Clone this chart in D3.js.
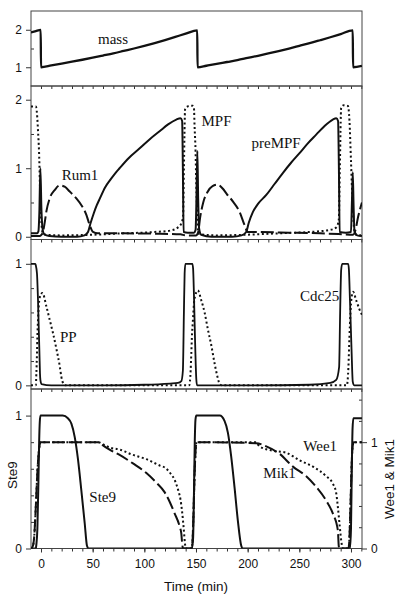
<!DOCTYPE html>
<html><head><meta charset="utf-8">
<script src="https://cdn.jsdelivr.net/npm/d3@7"></script>
<style>body{margin:0;background:#fff} svg{display:block}</style>
</head><body><svg id="c" width="400" height="600"></svg>
<script>
// ---- data (time in min) ----
const timeTicks = [0, 50, 100, 150, 200, 250, 300];
const massTicks = [1, 2];
const mpfTicks = [0, 1, 2];
const ppTicks = [0, 1];
const ste9Ticks = [0, 1];
const weeTicks = [0, 1];

const mass = [[-9.7,1.93],[-5,1.965],[-0.3,1.995],[0,1.0],[10,1.047],[20,1.096],[30,1.147],[40,1.2],[50,1.255],[60,1.312],[70,1.37],[80,1.435],[90,1.5],[100,1.57],[110,1.645],[120,1.725],[130,1.81],[140,1.895],[151.2,1.985],[151.5,1.0],[160,1.04],[170,1.088],[180,1.14],[190,1.19],[200,1.248],[210,1.306],[220,1.367],[230,1.431],[240,1.498],[250,1.57],[260,1.642],[270,1.72],[280,1.8],[290,1.885],[301.7,1.985],[302,1.0],[310.6,1.04]];

const preMPF = [[-9.7,0.05],[-4,0.05],[-2.5,0.08],[-1.6,0.35],[-0.6,1.0],[0.4,0.4],[1.5,0.12],[3,0.04],[8,0.01],[20,0.0],[35,0.0],[42,0.02],[45.5,0.07],[48,0.2],[51,0.34],[54,0.46],[57,0.56],[62,0.72],[67,0.83],[72,0.93],[76,1.0],[85,1.15],[95.5,1.29],[105,1.42],[114.8,1.54],[123,1.64],[130.9,1.71],[135,1.73],[136.6,1.69],[137.3,1.0],[138,0.07],[142,0.06],[148,0.06],[149.6,0.1],[150.5,0.6],[151.3,1.25],[152.1,0.55],[153,0.12],[155,0.03],[165,0.0],[185,0.0],[194,0.02],[198.6,0.07],[201,0.2],[205,0.36],[210,0.48],[218,0.61],[226,0.77],[234,0.93],[242,1.08],[250.2,1.22],[258,1.36],[266.3,1.49],[274,1.61],[282.4,1.71],[285.7,1.73],[287.5,1.69],[288.3,1.0],[289,0.07],[295,0.06],[300,0.07],[300.9,0.5],[301.7,0.94],[302.5,0.45],[303.4,0.08],[306,0.02],[310.6,0.01]];

const MPF = [[-9.7,1.9],[-5,1.9],[-3.9,1.8],[-2.9,1.55],[-1.9,1.24],[-0.6,0.52],[0.4,0.2],[1.4,0.07],[4,0.03],[20,0.02],[50,0.03],[80,0.05],[110,0.07],[125,0.09],[132,0.13],[136,0.2],[137.5,0.3],[138.3,1.0],[139.5,1.87],[143.8,1.91],[147,1.91],[148,1.88],[148.6,1.62],[149.6,1.23],[150.3,0.74],[151.2,0.35],[151.8,0.11],[153,0.04],[170,0.02],[200,0.03],[230,0.05],[260,0.07],[280,0.1],[286,0.14],[288.2,0.25],[289.2,1.0],[290.5,1.88],[293,1.92],[297,1.91],[298.5,1.7],[300,1.1],[301.5,0.5],[303.4,0.08],[305,0.03],[310.6,0.02]];

const Rum1 = [[-9.7,0.01],[-1,0.01],[0.5,0.03],[1.9,0.07],[3.5,0.2],[5.2,0.37],[8.4,0.56],[13.2,0.68],[18.1,0.75],[22.9,0.73],[27.8,0.66],[34.2,0.56],[39.1,0.46],[43.9,0.32],[47.1,0.17],[50.3,0.07],[55,0.05],[80,0.05],[110,0.045],[135,0.035],[140,0.02],[150,0.02],[152,0.06],[154,0.28],[157,0.5],[161,0.65],[166,0.74],[171,0.76],[176,0.7],[180,0.62],[186,0.51],[192,0.37],[197,0.17],[200,0.07],[205,0.07],[240,0.06],[270,0.05],[288,0.04],[302,0.03],[304,0.08],[307,0.3],[310.6,0.5]];

const Cdc25 = [[-9.7,1.0],[-5.5,1.0],[-5.1,0.99],[-3.9,0.92],[-2.9,0.7],[-2.2,0.48],[-1.5,0.26],[-1,0.1],[-0.6,0.045],[0.5,0.01],[10,0.0],[60,0.0],[100,0.005],[125,0.015],[132.5,0.02],[135.8,0.035],[137.3,0.12],[138.3,0.6],[139,0.92],[139.7,1.0],[146.5,1.0],[147.2,0.96],[148,0.75],[149,0.4],[150.3,0.05],[151,0.0],[200,0.0],[260,0.005],[280,0.02],[285.7,0.045],[288.5,0.15],[289.5,0.6],[290.5,0.95],[291.5,1.0],[297.3,1.0],[298,0.95],[299,0.7],[300.5,0.3],[301.7,0.03],[303,0],[310.6,0]];

const PP = [[-9.7,0.0],[-5,0.0],[-4.5,0.1],[-3.9,0.26],[-3.5,0.4],[-2.9,0.54],[-2.2,0.65],[-1.3,0.72],[1.4,0.76],[5.2,0.65],[8.4,0.54],[11.6,0.43],[14.9,0.3],[18.1,0.16],[19.7,0.07],[22,0.01],[24,0],[143.5,0],[144.8,0.12],[145.4,0.25],[146,0.39],[147,0.53],[148,0.67],[149.3,0.74],[151.8,0.78],[155.1,0.7],[158.3,0.6],[161.5,0.46],[164.8,0.33],[168,0.18],[170.5,0.08],[173,0.01],[175,0],[296,0],[297.5,0.15],[298.5,0.4],[299.5,0.6],[300.5,0.72],[302,0.77],[305,0.7],[308,0.63],[310.6,0.58]];

const Ste9 = [[-9.7,0],[-5,0.0],[-4.5,0.03],[-3.5,0.15],[-2.5,0.5],[-1.8,0.8],[-1.2,0.95],[-0.5,1.0],[21,1.0],[26,0.98],[29.4,0.94],[32.6,0.84],[35.8,0.67],[39,0.44],[42.3,0.19],[44.5,0.02],[46,0.0],[146,0],[147.2,0.08],[148,0.4],[148.8,0.8],[149.5,0.97],[150.3,1.0],[173,1.0],[177.6,0.96],[180.9,0.87],[184.1,0.69],[187.3,0.46],[190.5,0.21],[193.8,0.02],[195,0],[299,0],[300,0.15],[300.8,0.6],[301.5,0.9],[302.3,0.98],[310.6,0.98]];

const Wee1 = [[-9.7,0.0],[-8,0.02],[-6.5,0.12],[-5,0.4],[-3.5,0.72],[-2,0.92],[-0.5,1.0],[55,1.0],[60,0.98],[66.4,0.95],[76.1,0.93],[89,0.88],[102,0.84],[115,0.78],[120,0.76],[125,0.71],[130,0.63],[133,0.54],[135,0.46],[136.5,0.35],[138,0.2],[139.3,0.05],[140,0.0],[145.5,0],[146.5,0.05],[147.5,0.3],[148.5,0.65],[149.5,0.9],[150.5,1.0],[208,1.0],[211.5,0.96],[224.4,0.92],[237.3,0.9],[250.2,0.83],[263.1,0.77],[276,0.68],[282.4,0.61],[285.7,0.52],[287.3,0.39],[288.9,0.23],[290.6,0.07],[292,0.0],[297.5,0.0],[298.5,0.1],[299.5,0.4],[300.5,0.75],[301.5,0.95],[302.5,1.0],[310.6,1.0]];

const Mik1 = [[-9.7,0.0],[-8,0.02],[-6.5,0.12],[-5,0.4],[-3.5,0.72],[-2,0.92],[-0.5,1.0],[56,1.0],[60,0.97],[66.4,0.93],[76.1,0.88],[89,0.8],[102,0.71],[111.6,0.62],[119.6,0.53],[124.5,0.44],[129.3,0.33],[134.1,0.21],[135.8,0.14],[136.8,0.03],[137.5,0],[145.5,0],[146.5,0.05],[147.5,0.3],[148.5,0.65],[149.5,0.9],[150.5,1.0],[208.3,0.99],[218,0.96],[230.9,0.89],[243.8,0.77],[256.7,0.68],[266.3,0.58],[276,0.45],[282.4,0.33],[287.3,0.17],[288.2,0.02],[289,0],[297.5,0],[298.5,0.1],[299.5,0.4],[300.5,0.75],[301.5,0.95],[302.5,1.0],[310.6,1.0]];

// ---- layout ----
const svg = d3.select("#c");
const L = 31, R = 362;
const x = d3.scaleLinear().domain([-9.68, 310.65]).range([L, R]);
const sans = "'Liberation Sans', Arial, sans-serif";
const serif = "'Liberation Serif', 'Times New Roman', serif";
const INK = "#111";

const panels = [
  {top: 11, bot: 86, dom: [0.5, 2.5], ticks: massTicks, minor: [1.5]},
  {top: 86, bot: 239.5, dom: [-0.04, 2.2], ticks: mpfTicks, minor: [0.5, 1.5]},
  {top: 239.5, bot: 389, dom: [-0.03, 1.2], ticks: ppTicks, minor: [0.2, 0.4, 0.6, 0.8]},
  {top: 389, bot: 548.5, dom: [0, 1.2], ticks: ste9Ticks, minor: [0.2, 0.4, 0.6, 0.8]}
];
panels.forEach((p, i) => {
  p.y = d3.scaleLinear().domain(p.dom).range([p.bot, p.top]);
  svg.append("clipPath").attr("id", "clip" + i).append("rect")
    .attr("x", L).attr("y", p.top).attr("width", R - L).attr("height", p.bot - p.top);
});
const yR = d3.scaleLinear().domain([0, 1.5]).range([panels[3].bot, panels[3].top]);

function styleAxis(g, fs) {
  g.select(".domain").remove();
  g.selectAll("line").attr("stroke", "#333").attr("stroke-width", 1);
  g.selectAll("text").attr("font-family", sans).attr("font-size", fs || 12).attr("fill", INK);
}

// axes
panels.forEach((p, i) => {
  const gl = svg.append("g").attr("transform", `translate(${L},0)`)
    .call(d3.axisLeft(p.y).tickValues(p.ticks).tickSize(5).tickPadding(4).tickFormat(d3.format("d")));
  styleAxis(gl);
  const gm = svg.append("g").attr("transform", `translate(${L},0)`)
    .call(d3.axisLeft(p.y).tickValues(p.minor).tickSize(-3).tickFormat(""));
  styleAxis(gm);
  const gx = svg.append("g").attr("transform", `translate(0,${p.bot})`)
    .call(d3.axisBottom(x).tickValues(d3.range(0, 311, 10)).tickSize(3).tickFormat(""));
  styleAxis(gx);
});
// bottom labels
const gxb = svg.append("g").attr("transform", `translate(0,${panels[3].bot})`)
  .call(d3.axisBottom(x).tickValues(timeTicks).tickSize(4).tickPadding(7).tickFormat(d3.format("d")));
styleAxis(gxb);
// right axis panel 4
const gr = svg.append("g").attr("transform", `translate(${R},0)`)
  .call(d3.axisRight(yR).tickValues(weeTicks).tickSize(5).tickPadding(4).tickFormat(d3.format("d")));
styleAxis(gr);
const grm = svg.append("g").attr("transform", `translate(${R},0)`)
  .call(d3.axisRight(yR).tickValues([0.2, 0.4, 0.6, 0.8, 1.2, 1.4]).tickSize(-3).tickFormat(""));
styleAxis(grm);

// frames
panels.forEach(p => {
  svg.append("rect").attr("x", L).attr("y", p.top).attr("width", R - L).attr("height", p.bot - p.top)
    .attr("fill", "none").attr("stroke", "#444").attr("stroke-width", 1);
});

// curves
function draw(i, data, yS, opts) {
  const line = d3.line().x(d => x(d[0])).y(d => yS(d[1])).curve(d3.curveMonotoneX);
  svg.append("path").attr("d", line(data)).attr("clip-path", `url(#clip${i})`)
    .attr("fill", "none").attr("stroke", INK).attr("stroke-width", opts.w || 2)
    .attr("stroke-dasharray", opts.dash || null).attr("stroke-linejoin", "round");
}
const DOT = "2,2.6", DASH = "13,4";
draw(0, mass, panels[0].y, {w: 2.3});
draw(1, Rum1, panels[1].y, {dash: DASH});
draw(1, MPF, panels[1].y, {dash: DOT});
draw(1, preMPF, panels[1].y, {w: 2});
draw(2, PP, panels[2].y, {dash: DOT});
draw(2, Cdc25, panels[2].y, {w: 1.8});
draw(3, Wee1, yR, {dash: DOT});
draw(3, Mik1, yR, {dash: DASH});
draw(3, Ste9, panels[3].y, {w: 2});

// curve labels
const labels = [
  ["mass", 98, 44], ["Rum1", 61.7, 180], ["MPF", 201.5, 126], ["preMPF", 251.5, 148],
  ["PP", 60, 341.5], ["Cdc25", 300, 300.5], ["Ste9", 89.3, 501.5], ["Wee1", 303.3, 450.5], ["Mik1", 263.3, 478.3]
];
labels.forEach(l => svg.append("text").text(l[0]).attr("x", l[1]).attr("y", l[2])
  .attr("font-family", serif).attr("font-size", 15).attr("fill", INK));

// axis titles
svg.append("text").text("Time (min)").attr("x", 196).attr("y", 590.5).attr("text-anchor", "middle")
  .attr("font-family", sans).attr("font-size", 13.5).attr("fill", INK);
svg.append("text").text("Ste9").attr("transform", "translate(16.5,475) rotate(-90)").attr("text-anchor", "middle")
  .attr("font-family", sans).attr("font-size", 13.5).attr("fill", INK);
svg.append("text").text("Wee1 & Mik1").attr("transform", "translate(394,479) rotate(-90)").attr("text-anchor", "middle")
  .attr("font-family", sans).attr("font-size", 13.5).attr("fill", INK);
</script></body></html>
